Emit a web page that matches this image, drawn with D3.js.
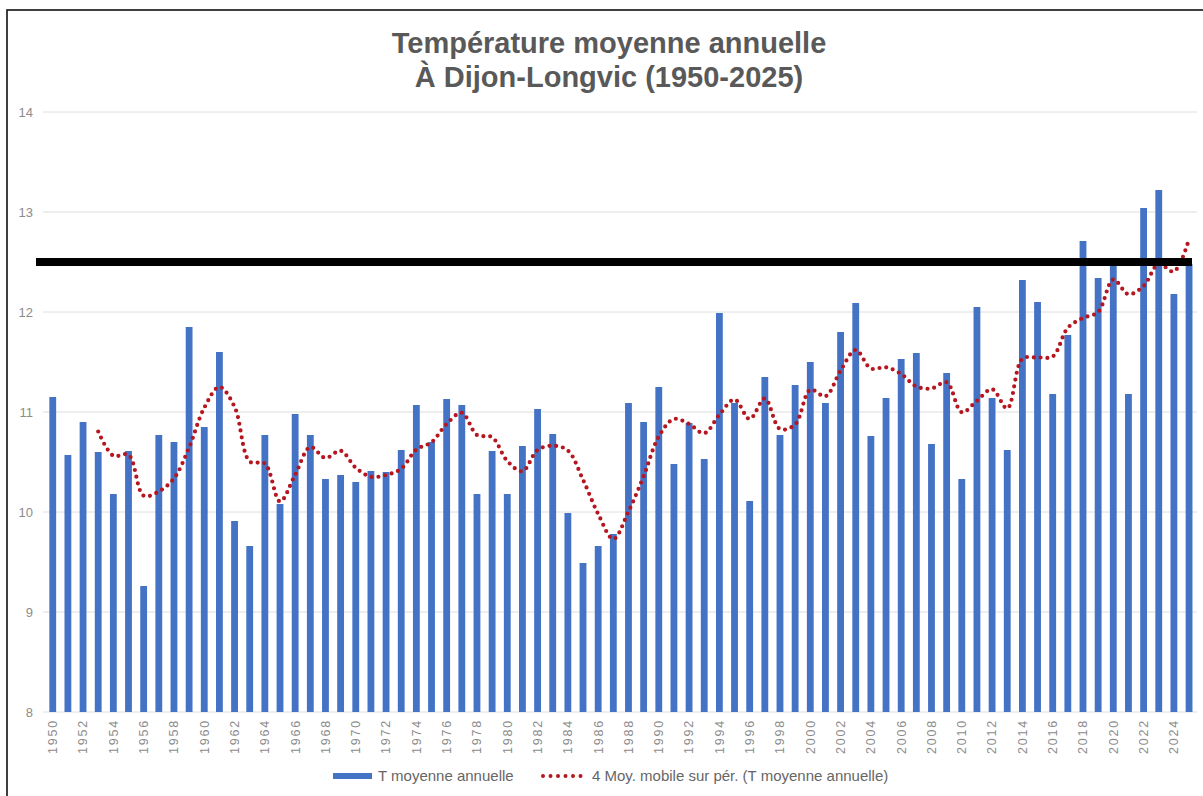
<!DOCTYPE html>
<html>
<head>
<meta charset="utf-8">
<script src="https://cdn.jsdelivr.net/npm/d3@7"></script>
<style>
  body { margin: 0; background: #fff; }
  text { font-family: "Liberation Sans", Arial, sans-serif; }
</style>
</head>
<body>
<script>
//chart data
var years = d3.range(1950, 2026);
var tempMean = [
  11.15, 10.57, 10.90, 10.60, 10.18, 10.61, 9.26, 10.77, 10.70, 11.85,
  10.85, 11.60, 9.91, 9.66, 10.77, 10.08, 10.98, 10.77, 10.33, 10.37,
  10.30, 10.41, 10.40, 10.62, 11.07, 10.70, 11.13, 11.07, 10.18, 10.61,
  10.18, 10.66, 11.03, 10.78, 9.99, 9.49, 9.66, 9.78, 11.09, 10.90,
  11.25, 10.48, 10.89, 10.53, 11.99, 11.09, 10.11, 11.35, 10.77, 11.27,
  11.50, 11.09, 11.80, 12.09, 10.76, 11.14, 11.53, 11.59, 10.68, 11.39,
  10.33, 12.05, 11.14, 10.62, 12.32, 12.10, 11.18, 11.77, 12.71, 12.34,
  12.48, 11.18, 13.04, 13.22, 12.18, 12.48
];
var yTicks = [8, 9, 10, 11, 12, 13, 14];
var xTickYears = years.filter(function(y) { return y % 2 === 0; });
var refLevel = 12.5; //black horizontal marker
var maPeriod = 4;

var titleLines = ["Température moyenne annuelle", "À Dijon-Longvic (1950-2025)"];
var legendLabels = ["T moyenne annuelle", "4 Moy. mobile sur pér. (T moyenne annuelle)"];

//moving average trendline (period 4), like the spreadsheet trendline
var movingAvg = [];
for (var i = maPeriod - 1; i < tempMean.length; i++) {
  movingAvg.push({ year: years[i], value: d3.mean(tempMean.slice(i - maPeriod + 1, i + 1)) });
}

var width = 1203,
  height = 796;

var svg = d3.select("body")
  .append("svg")
  .attr("width", width)
  .attr("height", height);

//outer frame
svg.append("rect")
  .attr("x", 7)
  .attr("y", 10)
  .attr("width", width)
  .attr("height", height)
  .attr("fill", "#fff")
  .attr("stroke", "#111")
  .attr("stroke-width", 1.6);

var x = d3.scaleBand()
  .domain(years)
  .range([45.1, 1196.7])
  .paddingInner(0.55)
  .paddingOuter(0.28);

var y = d3.scaleLinear()
  .domain([8, 14])
  .range([712, 112]);

//gridlines
svg.append("g")
  .selectAll("line")
  .data(yTicks)
  .enter()
  .append("line")
  .attr("x1", 43)
  .attr("x2", 1197)
  .attr("y1", function(d) { return y(d); })
  .attr("y2", function(d) { return y(d); })
  .attr("stroke", "#dedede")
  .attr("stroke-width", 1);

//y axis labels
var yAxis = svg.append("g")
  .attr("transform", "translate(33,0)")
  .call(d3.axisLeft(y).tickValues(yTicks).tickSize(0).tickPadding(0).tickFormat(d3.format("d")));
yAxis.select(".domain").remove();
yAxis.selectAll("text")
  .attr("fill", "#8c8c8c")
  .style("font-size", "13px")
  .style("font-family", "Liberation Sans, Arial, sans-serif");

//bars
svg.append("g")
  .selectAll("rect")
  .data(tempMean)
  .enter()
  .append("rect")
  .attr("x", function(d, i) { return x(years[i]); })
  .attr("y", function(d) { return y(d); })
  .attr("width", x.bandwidth())
  .attr("height", function(d) { return y(8) - y(d); })
  .attr("fill", "#4472c4");

//x axis labels, every second year
var xAxis = svg.append("g")
  .attr("transform", "translate(0,719)")
  .call(d3.axisBottom(x).tickValues(xTickYears).tickSize(0).tickPadding(0));
xAxis.select(".domain").remove();
xAxis.selectAll("text")
  .attr("fill", "#8c8c8c")
  .attr("transform", "rotate(-90)")
  .attr("text-anchor", "end")
  .attr("x", 0)
  .attr("y", 0)
  .attr("dy", "0.35em")
  .style("letter-spacing", "1.8px")
  .style("font-size", "12.5px")
  .style("font-family", "Liberation Sans, Arial, sans-serif");

//moving average, dotted
var maLine = d3.line()
  .x(function(d) { return x(d.year) + x.bandwidth() / 2; })
  .y(function(d) { return y(d.value); })
  .curve(d3.curveCatmullRom.alpha(0.5));

svg.append("path")
  .datum(movingAvg)
  .attr("d", maLine)
  .attr("fill", "none")
  .attr("stroke", "#b5161f")
  .attr("stroke-width", 4.2)
  .attr("stroke-linecap", "round")
  .attr("stroke-dasharray", "0 6.8");

//reference line
svg.append("line")
  .attr("x1", 36)
  .attr("x2", 1192)
  .attr("y1", y(refLevel))
  .attr("y2", y(refLevel))
  .attr("stroke", "#000")
  .attr("stroke-width", 8);

//title
svg.append("g")
  .selectAll("text")
  .data(titleLines)
  .enter()
  .append("text")
  .attr("x", 609)
  .attr("y", function(d, i) { return 53 + i * 34; })
  .attr("text-anchor", "middle")
  .attr("fill", "#595959")
  .style("font-size", "29px")
  .style("font-weight", "bold")
  .text(function(d) { return d; });

//legend
var legend = svg.append("g").attr("transform", "translate(0,776)");
legend.append("rect")
  .attr("x", 333)
  .attr("y", -3)
  .attr("width", 39)
  .attr("height", 6)
  .attr("fill", "#4472c4");
legend.append("text")
  .attr("x", 378)
  .attr("y", 0)
  .attr("dy", "0.35em")
  .attr("fill", "#666")
  .style("font-size", "15px")
  .text(legendLabels[0]);
legend.append("line")
  .attr("x1", 543)
  .attr("x2", 584)
  .attr("y1", 0)
  .attr("y2", 0)
  .attr("stroke", "#b5161f")
  .attr("stroke-width", 4)
  .attr("stroke-linecap", "round")
  .attr("stroke-dasharray", "0 7.5");
legend.append("text")
  .attr("x", 592)
  .attr("y", 0)
  .attr("dy", "0.35em")
  .attr("fill", "#666")
  .style("font-size", "15px")
  .text(legendLabels[1]);
</script>
</body>
</html>
